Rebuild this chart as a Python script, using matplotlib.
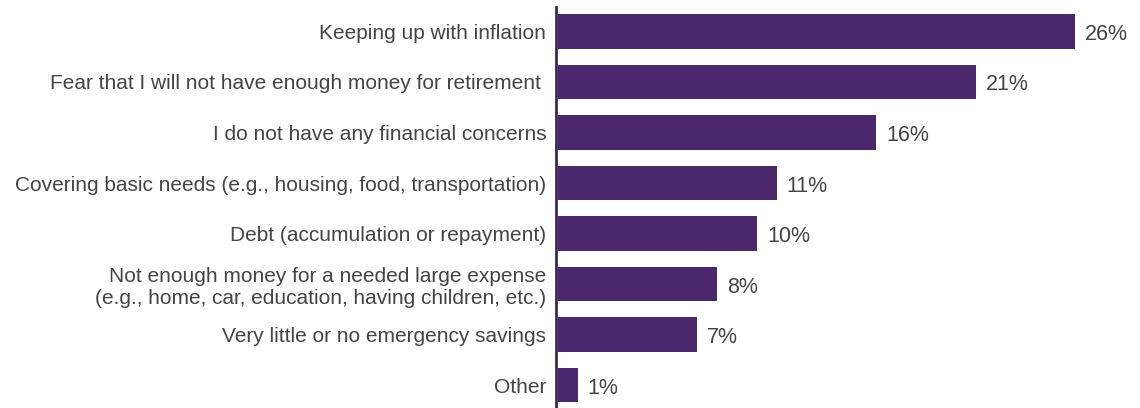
import matplotlib.pyplot as plt
from matplotlib.transforms import ScaledTranslation

plt.rcParams['font.family'] = ['Liberation Sans', 'DejaVu Sans']

concerns = [
    'Keeping up with inflation',
    'Fear that I will not have enough money for retirement ',
    'I do not have any financial concerns',
    'Covering basic needs (e.g., housing, food, transportation)',
    'Debt (accumulation or repayment)',
    'Not enough money for a needed large expense\n(e.g., home, car, education, having children, etc.)',
    'Very little or no emergency savings',
    'Other',
]
shares = [26, 21, 16, 11, 10, 8, 7, 1]

bar_color = '#4b286d'
text_color = '#444444'

fig = plt.figure(figsize=(11.4, 4.08), dpi=100)
ax = fig.add_axes([556 / 1140, 0, 584 / 1140, 401 / 408])

pos = list(range(len(shares)))
ax.barh(pos, shares, height=0.69, color=bar_color, left=0.1)

# nudge text a few pixels below the bar centres
shift = ScaledTranslation(0, -0.03, fig.dpi_scale_trans)

for p, v in zip(pos, shares):
    ax.text(v + 0.1 + 0.5, p, f'{v}%', va='center', ha='left',
            fontsize=15.5, color=text_color,
            transform=ax.transData + shift)

ax.set_yticks(pos)
ax.set_yticklabels(concerns, fontsize=15, color=text_color, linespacing=1.2)
for lbl in ax.get_yticklabels():
    lbl.set_transform(lbl.get_transform() + shift)
ax.tick_params(axis='y', length=0, pad=7)
ax.set_xticks([])
ax.set_xlim(0, 29.35)
ax.set_ylim(7.455, -0.485)

for side in ['top', 'right', 'bottom']:
    ax.spines[side].set_visible(False)
ax.spines['left'].set_color('#3b2a4f')
ax.spines['left'].set_linewidth(2)

fig.savefig('out.png', dpi=100)
